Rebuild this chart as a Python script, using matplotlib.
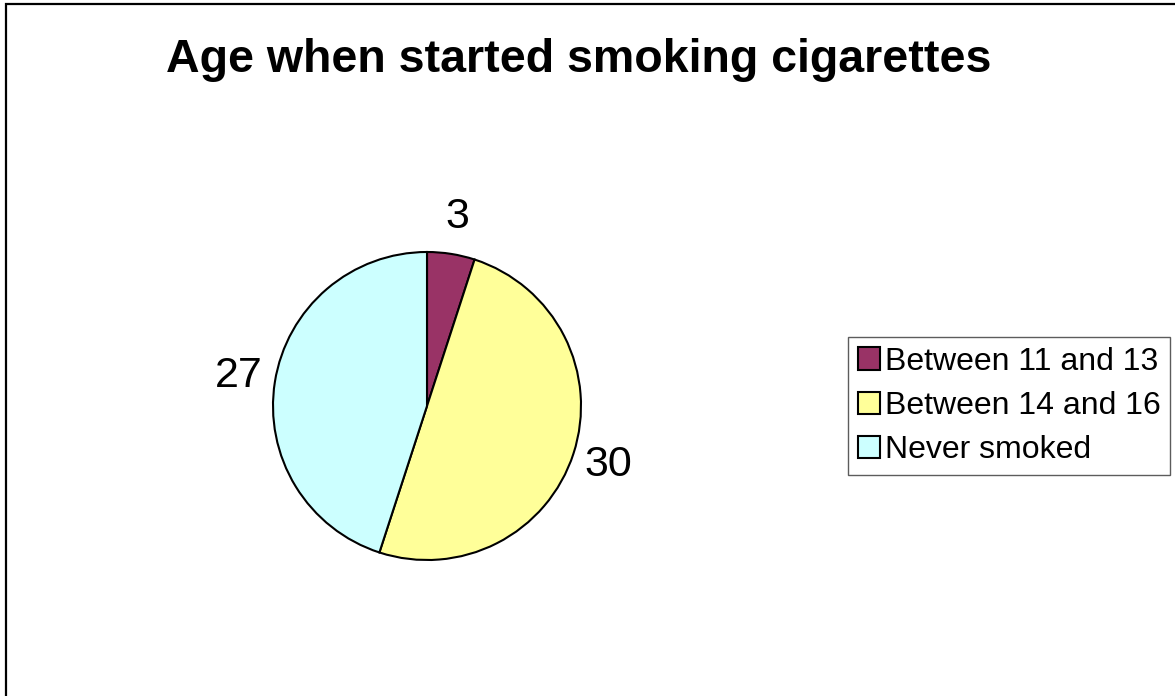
import matplotlib.pyplot as plt
from matplotlib.patches import Rectangle

plt.rcParams['font.family'] = ['Liberation Sans', 'DejaVu Sans']

# data
categories = ['Between 11 and 13', 'Between 14 and 16', 'Never smoked']
counts = [3, 30, 27]
colors = ['#993366', '#FFFF99', '#CCFFFF']

W, H = 1175, 696
fig = plt.figure(figsize=(W / 100, H / 100), dpi=100)

# pie axes: centre (427, 406) px, radius 154 px
cx, cy, r = 427, 406, 154
ax = fig.add_axes([(cx - r) / W, (H - cy - r) / H, 2 * r / W, 2 * r / H])
wedges, texts = ax.pie(counts, colors=colors, labels=[str(c) for c in counts],
                       startangle=90, counterclock=False, radius=1,
                       labeldistance=1.24,
                       wedgeprops=dict(edgecolor='black', linewidth=1.5),
                       textprops=dict(fontsize=31))
for t in texts:
    t.set_ha('center')
    t.set_va('center')
ax.set_xlim(-1, 1)
ax.set_ylim(-1, 1)
ax.set_aspect('equal')
ax.axis('off')

fig.text(579 / W, 1 - 60 / H, 'Age when started smoking cigarettes',
         ha='center', va='center', fontsize=33.5, fontweight='bold')

leg = fig.legend(wedges, categories, loc='upper left',
                 bbox_to_anchor=(848 / W, 1 - 337 / H), borderaxespad=0,
                 fontsize=23, frameon=True, fancybox=False,
                 handlelength=0.7, handleheight=0.7, handletextpad=0.15,
                 labelspacing=0.45, borderpad=0.3)
leg.get_frame().set_edgecolor('#333333')
leg.get_frame().set_linewidth(1.0)

# outer chart border (left and top visible)
fig.patches.append(Rectangle((6 / W, -0.1), 1.2, 1 - 4 / H + 0.1,
                             transform=fig.transFigure, fill=False,
                             edgecolor='black', linewidth=1.6))

fig.savefig('out.png', dpi=100)
